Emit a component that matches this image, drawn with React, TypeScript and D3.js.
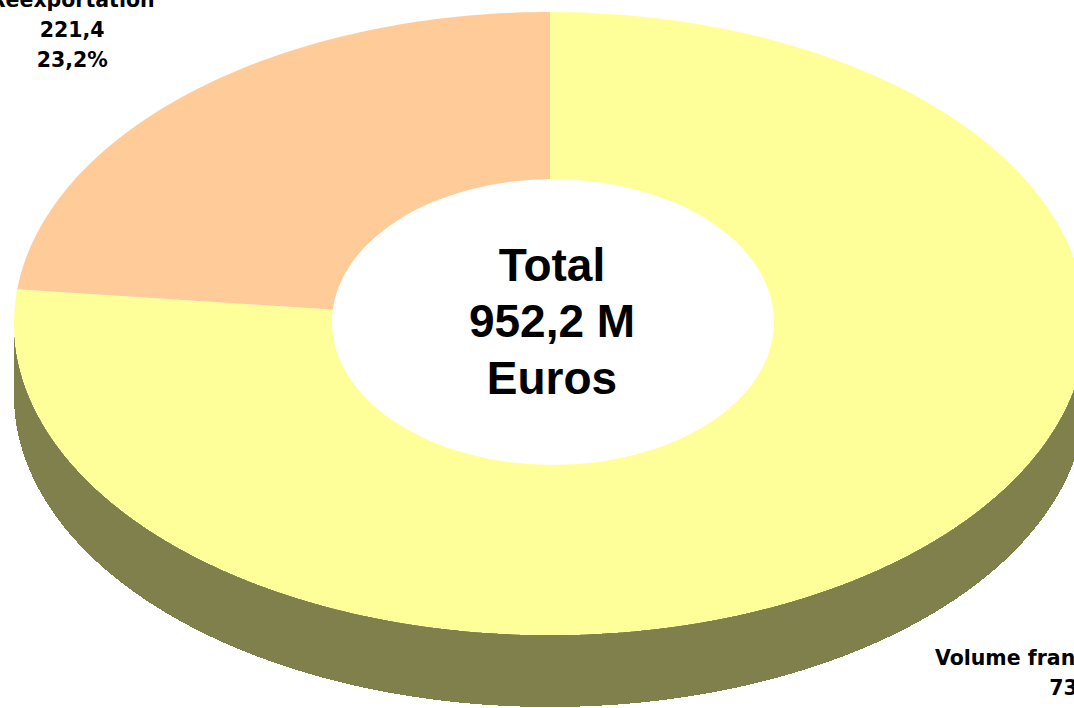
import React from "react";
import * as d3 from "d3";

// ---- Data ----
const categories: string[] = ["Volume français intérieur", "Réexportation"];
const values: number[] = [730.8, 221.4];
const valueLabels: string[] = ["730,8", "221,4"];
const percentLabels: string[] = ["76,8%", "23,2%"];
const colors: string[] = ["#FFFF99", "#FFCC99"];
const sideColors: string[] = ["#80804D", "#806650"];
const centerLines: string[] = ["Total", "952,2 M", "Euros"];
// label placement factors (relative to the slice's mid-angle on the ellipse)
const labelK: { kx: number; ky: number }[] = [
  { kx: 1.487, ky: 1.6 },
  { kx: 1.336, ky: 1.233 },
];

const W = 1074;
const H = 708;

export default function App() {
  const cx = 550;
  const cy = 323.5;
  const rx = 536;
  const ry = 311.5;
  const depth = 72;
  const holeRx = 221;
  const holeRy = 143;
  const holeDx = 3;

  const arcs = d3.pie<number>().sort(null).value((d) => d)(values);
  const ell = (t: number, dy = 0): [number, number] => [
    cx + rx * Math.sin(t),
    cy - ry * Math.cos(t) + dy,
  ];
  const line = d3.line<[number, number]>();
  const sample = (a0: number, a1: number, dy = 0) => {
    const n = Math.max(2, Math.ceil(((a1 - a0) / (2 * Math.PI)) * 400));
    return d3.range(n + 1).map((i) => ell(a0 + ((a1 - a0) * i) / n, dy));
  };

  const sides = arcs.map((a, i) => {
    const s = Math.max(a.startAngle, Math.PI / 2);
    const e = Math.min(a.endAngle, (3 * Math.PI) / 2);
    if (s >= e) return null;
    const topPts = sample(s, e);
    const botPts = sample(s, e, depth).reverse();
    return (
      <path
        key={"side" + i}
        d={line([...topPts, ...botPts])! + "Z"}
        fill={sideColors[i]}
      />
    );
  });

  const tops = arcs.map((a, i) => {
    const pts: [number, number][] = [[cx, cy], ...sample(a.startAngle, a.endAngle)];
    return <path key={"top" + i} d={line(pts)! + "Z"} fill={colors[i]} />;
  });

  const labelFont = "'DejaVu Sans', Verdana, sans-serif";
  const lh = 30;
  const labels = arcs.map((a, i) => {
    const mid = (a.startAngle + a.endAngle) / 2;
    const x = cx + rx * Math.sin(mid) * labelK[i].kx;
    const y = cy - ry * Math.cos(mid) * labelK[i].ky;
    const lines = [categories[i], valueLabels[i], percentLabels[i]];
    return (
      <text
        key={"lab" + i}
        x={x}
        y={y}
        textAnchor="middle"
        fontFamily={labelFont}
        fontWeight="bold"
        fontSize={20.5}
        fill="#000"
      >
        {lines.map((l, j) => (
          <tspan key={j} x={x} y={y + (j - 1) * lh}>
            {l}
          </tspan>
        ))}
      </text>
    );
  });

  const centerFont = "'Century Gothic', 'Liberation Sans', Arial, sans-serif";
  const cLh = 56.5;
  const cBase = 337;

  return (
    <svg
      width={W}
      height={H}
      style={{ position: "fixed", left: 0, top: 0, background: "#fff" }}
    >
      <rect x={0} y={0} width={W} height={H} fill="#fff" />
      <g shapeRendering="crispEdges">{sides}</g>
      <g>{tops}</g>
      <ellipse cx={cx + holeDx} cy={cy - 1.5} rx={holeRx} ry={holeRy} fill="#fff" />
      <text
        textAnchor="middle"
        fontFamily={centerFont}
        fontWeight="bold"
        fontSize={46}
        fill="#000"
      >
        {centerLines.map((l, j) => (
          <tspan key={j} x={cx + 2} y={cBase + (j - 1) * cLh}>
            {l}
          </tspan>
        ))}
      </text>
      {labels}
    </svg>
  );
}
